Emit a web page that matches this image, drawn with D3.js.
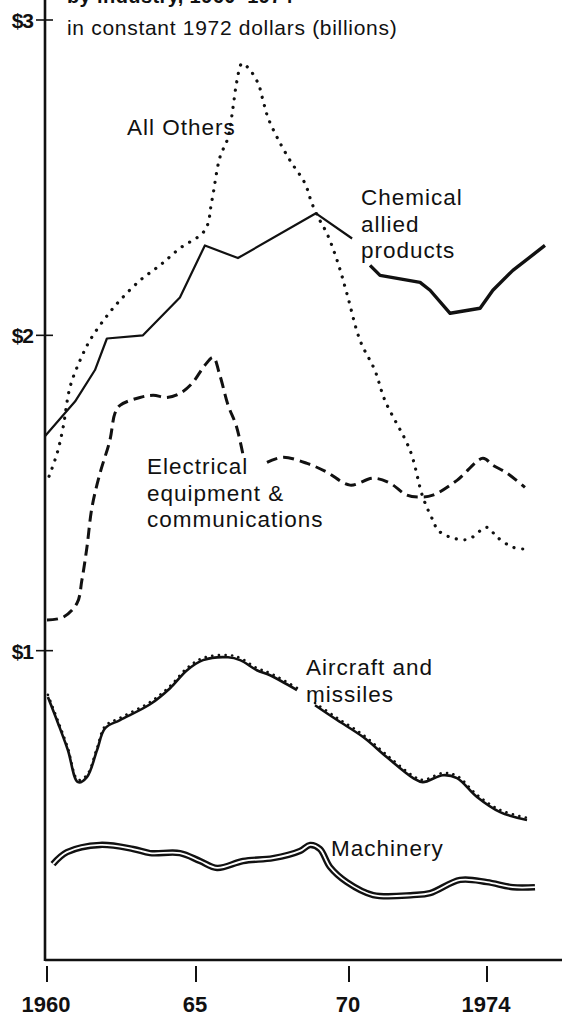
<!DOCTYPE html>
<html>
<head>
<meta charset="utf-8">
<script src="https://cdn.jsdelivr.net/npm/d3@7"></script>
<style>
    body { margin: 0; background: #fff; }
    #chart text { font-family: 'Liberation Sans', Arial, Helvetica, sans-serif; fill: #111; }
    .axis-label { font-weight: bold; font-size: 21px; letter-spacing: -1px; }
    .year-label { font-weight: bold; font-size: 22px; }
    .series-label { font-size: 22.5px; letter-spacing: 1px; }
</style>
</head>
<body>
<div id="chart"></div>
<script>
// chart values (year, billions of 1972 dollars)
var yearTicks = [1960, 1965, 1970, 1974];
var yearTickLabels = ['1960', '65', '70', '1974'];
var valueTicks = [1, 2, 3];
var valueTickLabels = ['$1', '$2', '$3'];

// chemical is drawn in two pieces in the original, the later one heavier
var chemicalEarly = [[1959.93,1.68],[1960.94,1.79],[1961.61,1.89],[1962.01,1.99],[1963.22,2.0],
                     [1964.46,2.12],[1965.29,2.285],[1966.37,2.245],[1968.92,2.387],[1970.09,2.307]];
var chemicalLate = [[1970.61,2.222],[1970.90,2.19],[1972.06,2.168],[1972.35,2.143],[1972.93,2.07],
                    [1973.80,2.086],[1974.17,2.143],[1974.75,2.206],[1975.68,2.285]];

var allOthers = [[1960.07,1.553],[1960.34,1.626],[1960.54,1.708],[1960.77,1.835],[1961.11,1.921],
                 [1961.44,1.984],[1961.95,2.054],[1962.45,2.111],[1963.12,2.174],[1963.79,2.222],
                 [1964.46,2.276],[1965.29,2.333],[1965.52,2.428],[1965.78,2.564],[1966.05,2.628],
                 [1966.21,2.723],[1966.34,2.808],[1966.50,2.862],[1966.70,2.849],[1967.03,2.799],
                 [1967.19,2.745],[1967.35,2.691],[1967.65,2.628],[1968.07,2.555],[1968.56,2.482],
                 [1968.79,2.418],[1969.05,2.364],[1969.28,2.323],[1969.61,2.238],[1969.93,2.133],
                 [1970.32,1.984],[1970.75,1.889],[1971.04,1.794],[1971.77,1.635],[1972.14,1.487],
                 [1972.43,1.414],[1972.58,1.382],[1972.93,1.36],[1973.45,1.353],[1974.0,1.391],
                 [1974.29,1.36],[1974.75,1.328],[1975.10,1.322]];

var electrical = [[1960.0,1.097],[1960.54,1.106],[1961.01,1.151],[1961.17,1.223],[1961.34,1.328],
                  [1961.51,1.455],[1961.78,1.563],[1962.11,1.667],[1962.28,1.753],[1962.45,1.778],
                  [1963.12,1.803],[1963.56,1.81],[1964.03,1.803],[1964.46,1.816],[1964.87,1.848],
                  [1965.29,1.905],[1965.56,1.93],[1965.78,1.873],[1966.05,1.778],[1966.31,1.715],
                  [1966.54,1.62],
                  null,
                  [1967.32,1.597],[1967.84,1.613],[1968.63,1.594],[1969.28,1.566],[1970.03,1.525],
                  [1970.70,1.547],[1971.19,1.531],[1971.68,1.493],[1972.06,1.487],[1972.43,1.493],
                  [1973.13,1.54],[1973.88,1.61],[1974.17,1.588],[1974.58,1.563],[1975.10,1.518]];

var aircraft = [[1960.03,0.853],[1960.37,0.77],[1960.70,0.685],[1961.04,0.583],[1961.34,0.599],
                [1961.68,0.685],[1961.95,0.754],[1962.45,0.78],[1963.46,0.83],[1964.13,0.881],
                [1964.70,0.938],[1965.23,0.97],[1966.05,0.979],[1966.44,0.97],[1966.99,0.938],
                [1967.42,0.922],[1968.30,0.875],
                null,
                [1968.89,0.827],[1969.61,0.78],[1970.41,0.726],[1971.10,0.662],[1971.86,0.596],
                [1972.14,0.583],[1972.72,0.605],[1973.13,0.596],[1973.71,0.536],[1974.38,0.488],
                [1975.16,0.463]];

var machinery = [[1960.20,0.323],[1960.67,0.361],[1961.78,0.384],[1962.89,0.371],[1963.46,0.358],
                 [1964.46,0.358],[1965.13,0.333],[1965.69,0.311],[1966.54,0.333],[1967.52,0.342],
                 [1968.40,0.365],[1968.73,0.384],[1969.05,0.371],[1969.38,0.314],[1969.93,0.266],
                 [1970.70,0.225],[1971.86,0.225],[1972.35,0.231],[1973.22,0.273],[1974.0,0.266],
                 [1974.75,0.25],[1975.39,0.25]];

function init()
{
    var width = 562, height = 1017;

    var svg = d3.select('#chart').append('svg')
        .attr('width', width)
        .attr('height', height);

    // the original's year spacing is uneven, so the scale is piecewise
    var x = d3.scaleLinear().domain(yearTicks).range([47, 196, 349, 487]);
    var y = d3.scaleLinear().domain([0, 3]).range([966, 20]);

    var axisX = 45, baseY = 960;

    // frame
    svg.append('line')
        .attr('x1', axisX).attr('x2', axisX)
        .attr('y1', 0).attr('y2', baseY + 1)
        .attr('stroke', '#111').attr('stroke-width', 2.6);
    svg.append('line')
        .attr('x1', axisX).attr('x2', width)
        .attr('y1', baseY).attr('y2', baseY)
        .attr('stroke', '#111').attr('stroke-width', 2.6);

    // value ticks
    var vt = svg.selectAll('.vtick').data(valueTicks).enter().append('g')
        .attr('transform', function(d) { return 'translate(0,' + y(d) + ')'; });
    vt.append('line')
        .attr('x1', 36).attr('x2', 53)
        .attr('stroke', '#111').attr('stroke-width', 1.6);
    vt.append('text')
        .attr('class', 'axis-label')
        .attr('x', 33).attr('y', 8)
        .attr('text-anchor', 'end')
        .text(function(d, i) { return valueTickLabels[i]; });

    // year ticks
    var yt = svg.selectAll('.ytick').data(yearTicks).enter().append('g')
        .attr('transform', function(d) { return 'translate(' + x(d) + ',0)'; });
    yt.append('line')
        .attr('y1', 966).attr('y2', 982)
        .attr('stroke', '#111').attr('stroke-width', 2);
    yt.append('text')
        .attr('class', 'year-label')
        .attr('x', -1)
        .attr('y', 1012)
        .attr('text-anchor', 'middle')
        .text(function(d, i) { return yearTickLabels[i]; });

    // title (cut off at the top in the original)
    svg.append('text')
        .attr('x', 67).attr('y', 3)
        .style('font-weight', 'bold').style('font-size', '20px')
        .style('letter-spacing', '0.4px')
        .text('by industry, 1960\u20131974');
    svg.append('text')
        .attr('x', 67).attr('y', 35)
        .style('font-size', '21px')
        .style('letter-spacing', '0.7px')
        .text('in constant 1972 dollars (billions)');

    var smooth = d3.line()
        .defined(function(d) { return d !== null; })
        .x(function(d) { return x(d[0]); })
        .y(function(d) { return y(d[1]); })
        .curve(d3.curveCatmullRom.alpha(0.5));
    var straight = d3.line()
        .x(function(d) { return x(d[0]); })
        .y(function(d) { return y(d[1]); });

    var g = svg.append('g').attr('fill', 'none').attr('stroke', '#111');

    // machinery: double line
    g.append('path').attr('d', smooth(machinery))
        .attr('stroke-width', 6.5).attr('stroke-linejoin', 'round');
    g.append('path').attr('d', smooth(machinery))
        .attr('stroke', '#fff').attr('stroke-width', 1.8);

    // aircraft: solid line with dots along its top
    g.append('path').attr('d', smooth(aircraft))
        .attr('stroke-width', 2.6);
    g.append('path').attr('d', smooth(aircraft))
        .attr('transform', 'translate(0,-2.2)')
        .attr('stroke-width', 2.6)
        .attr('stroke-linecap', 'round')
        .attr('stroke-dasharray', '0.1,6.5');

    // electrical: dashed
    g.append('path').attr('d', smooth(electrical))
        .attr('stroke-width', 3)
        .attr('stroke-dasharray', '11,6');

    // all others: dotted
    g.append('path').attr('d', smooth(allOthers))
        .attr('stroke-width', 3.2)
        .attr('stroke-linecap', 'round')
        .attr('stroke-dasharray', '0.1,8.5');

    // chemical: solid
    g.append('path').attr('d', straight(chemicalEarly))
        .attr('stroke-width', 2.2)
        .attr('stroke-linejoin', 'round');
    g.append('path').attr('d', straight(chemicalLate))
        .attr('stroke-width', 3.4)
        .attr('stroke-linejoin', 'round');

    // series labels
    var labels = [
        { lines: ['All Others'], x: 127, y: 135 },
        { lines: ['Chemical', 'allied', 'products'], x: 361, y: 205 },
        { lines: ['Electrical', 'equipment &', 'communications'], x: 147, y: 474 },
        { lines: ['Aircraft and', 'missiles'], x: 306, y: 675 },
        { lines: ['Machinery'], x: 331, y: 856 }
    ];
    labels.forEach(function(l)
    {
        var t = svg.append('text').attr('class', 'series-label')
            .attr('x', l.x).attr('y', l.y);
        l.lines.forEach(function(s, i)
        {
            t.append('tspan').attr('x', l.x).attr('dy', i ? 26.5 : 0).text(s);
        });
    });
}
window.addEventListener('load', init, false);
</script>
</body>
</html>
